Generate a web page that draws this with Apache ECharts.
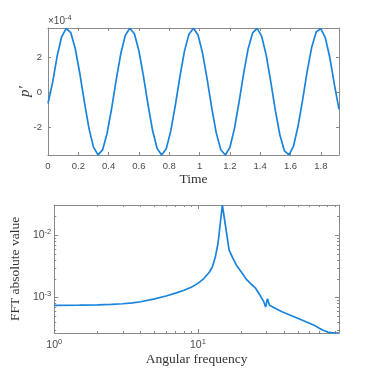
<!DOCTYPE html>
<html>
<head>
<meta charset="utf-8">
<script src="https://cdn.jsdelivr.net/npm/echarts@6/dist/echarts.min.js"></script>
<style>html,body{margin:0;padding:0;background:#fff}#c{width:374px;height:374px}</style>
</head>
<body>
<div id="c"></div>
<script>
// ---- top panel: pressure fluctuation (units of 1e-4) ----
var timeValues = [0,0.03,0.06,0.09,0.12,0.15,0.18,0.21,0.24,0.27,0.30,0.33,0.36,0.39,0.42,0.45,0.48,0.51,0.54,0.57,0.60,0.63,0.66,0.69,0.72,0.75,0.78,0.81,0.84,0.87,0.90,0.93,0.96,0.99,1.02,1.05,1.08,1.11,1.14,1.17,1.20,1.23,1.26,1.29,1.32,1.35,1.38,1.41,1.44,1.47,1.50,1.53,1.56,1.59,1.62,1.65,1.68,1.71,1.74,1.77,1.80,1.83,1.86,1.89,1.92];
var pressureValues = [-0.63,0.54,2.05,3.16,3.64,3.40,2.48,1.07,-0.54,-2.04,
  -3.12,-3.56,-3.28,-2.33,-0.91,0.71,2.19,3.24,3.65,3.33,
  2.35,0.91,-0.71,-2.18,-3.20,-3.57,-3.22,-2.20,-0.75,0.87,
  2.33,3.31,3.65,3.26,2.22,0.75,-0.87,-2.31,-3.27,-3.57,
  -3.14,-2.07,-0.59,1.03,2.46,3.38,3.64,3.18,2.10,0.59,
  -1.03,-2.43,-3.34,-3.56,-3.06,-1.92,-0.43,1.19,2.57,3.44,
  3.63,3.10,1.95,0.42,-0.97];
var timeTicks = [0,0.2,0.4,0.6,0.8,1,1.2,1.4,1.6,1.8];
var pressureTicks = [-2,0,2];

// ---- bottom panel: FFT ----
var omegaValues = [1,1.5,2,2.5,3,3.5,4,5,6,7,8,9,10,11,12,12.6,13.2,13.8,14.8,16.5,17.5,18.5,20,21.6,23.5,25.3,27,28.8,29.6,30.5,31.5,35,38.5,44,50,57,65,70,75,80,85,90,96];
var fftValues = [7.5e-4,7.55e-4,7.65e-4,7.75e-4,7.95e-4,8.2e-4,8.55e-4,9.5e-4,1.06e-3,1.18e-3,
  1.31e-3,1.46e-3,1.69e-3,2.02e-3,2.55e-3,3.1e-3,4.4e-3,7.4e-3,3.08e-2,5.8e-3,
  4.3e-3,3.35e-3,2.6e-3,2.0e-3,1.65e-3,1.4e-3,1.1e-3,8.5e-4,7.06e-4,9.6e-4,
  7.5e-4,6.6e-4,5.9e-4,5.2e-4,4.6e-4,4.05e-4,3.55e-4,3.22e-4,2.96e-4,2.79e-4,2.72e-4,2.69e-4,2.69e-4];
var omegaMajorTicks = [1,10];
var omegaMinorTicks = [2,3,4,5,6,7,8,9,20,30,40,50,60,70,80,90];
var fftMajorTicks = [1e-3,1e-2];
var fftMinorTicks = [3e-4,4e-4,5e-4,6e-4,7e-4,8e-4,9e-4,2e-3,3e-3,4e-3,5e-3,6e-3,7e-3,8e-3,9e-3,2e-2,3e-2];

var AX = '#8a8a8a', LBL = '#4a4a4a', LINE = '#1a84dc';
var SANS = '"Liberation Sans", Arial, sans-serif';
var SERIF = '"Liberation Serif", "Times New Roman", serif';

function pow10Label(v){
  var e = Math.round(Math.log(v)/Math.LN10);
  return '{b|10}{s|' + e + '}';
}
var powRich = {
  b:{fontSize:10.5,color:LBL,fontFamily:SANS},
  s:{fontSize:7.5,color:LBL,fontFamily:SANS,padding:[0,0,7,0]}
};

var chart = echarts.init(document.getElementById('c'), null, {renderer:'canvas'});
var option = {
  animation:false,
  backgroundColor:'#fff',
  grid:[
    {left:48, top:28, width:291, height:127},
    {left:48, top:205, width:291, height:128}
  ],
  graphic:[{
    type:'text', left:48, top:14,
    style:{text:'{a|×10}{e|-4}', rich:{a:{fontSize:10,fill:LBL,fontFamily:SANS}, e:{fontSize:7.5,fill:LBL,fontFamily:SANS,padding:[0,0,7,0]}}}
  }],
  xAxis:[
    {type:'value', gridIndex:0, position:'bottom', min:0, max:1.92,
     axisLine:{show:true, onZero:false, lineStyle:{color:AX,width:1}},
     axisTick:{show:true, inside:true, length:3, customValues:timeTicks, lineStyle:{color:AX}},
     axisLabel:{show:true, customValues:timeTicks, fontSize:9.5, color:LBL, fontFamily:SANS, margin:6},
     splitLine:{show:false},
     name:'Time', nameLocation:'middle', nameGap:17,
     nameTextStyle:{fontFamily:SERIF, fontSize:13.5, color:'#333'}},
    {type:'value', gridIndex:0, position:'top', min:0, max:1.92,
     axisLine:{show:true, onZero:false, lineStyle:{color:AX,width:1}},
     axisTick:{show:true, inside:true, length:3, customValues:timeTicks, lineStyle:{color:AX}},
     axisLabel:{show:false}, splitLine:{show:false}},
    {type:'log', gridIndex:1, position:'bottom', min:1, max:96, logBase:10,
     axisLine:{show:true, onZero:false, lineStyle:{color:AX,width:1}},
     axisTick:{show:true, inside:true, length:4, customValues:omegaMajorTicks, lineStyle:{color:AX}},
     axisLabel:{show:true, customValues:omegaMajorTicks, formatter:pow10Label, rich:powRich, margin:5},
     splitLine:{show:false}, minorTick:{show:false},
     name:'Angular frequency', nameLocation:'middle', nameGap:19,
     nameTextStyle:{fontFamily:SERIF, fontSize:13.5, color:'#333'}},
    {type:'log', gridIndex:1, position:'bottom', min:1, max:96, logBase:10,
     axisLine:{show:false},
     axisTick:{show:true, inside:true, length:2, customValues:omegaMinorTicks, lineStyle:{color:AX}},
     axisLabel:{show:false}, splitLine:{show:false}},
    {type:'log', gridIndex:1, position:'top', min:1, max:96, logBase:10,
     axisLine:{show:true, onZero:false, lineStyle:{color:AX,width:1}},
     axisTick:{show:true, inside:true, length:4, customValues:omegaMajorTicks, lineStyle:{color:AX}},
     axisLabel:{show:false}, splitLine:{show:false}},
    {type:'log', gridIndex:1, position:'top', min:1, max:96, logBase:10,
     axisLine:{show:false},
     axisTick:{show:true, inside:true, length:2, customValues:omegaMinorTicks, lineStyle:{color:AX}},
     axisLabel:{show:false}, splitLine:{show:false}}
  ],
  yAxis:[
    {type:'value', gridIndex:0, position:'left', min:-3.57, max:3.66,
     axisLine:{show:true, onZero:false, lineStyle:{color:AX,width:1}},
     axisTick:{show:true, inside:true, length:3, customValues:pressureTicks, lineStyle:{color:AX}},
     axisLabel:{show:true, customValues:pressureTicks, fontSize:9.5, color:LBL, fontFamily:SANS, margin:6},
     splitLine:{show:false},
     name:'p\u2032', nameLocation:'middle', nameGap:15, nameMoveOverlap:false,
     nameTextStyle:{fontFamily:SERIF, fontStyle:'italic', fontSize:15, color:'#333'}},
    {type:'value', gridIndex:0, position:'right', min:-3.57, max:3.66,
     axisLine:{show:true, onZero:false, lineStyle:{color:AX,width:1}},
     axisTick:{show:true, inside:true, length:3, customValues:pressureTicks, lineStyle:{color:AX}},
     axisLabel:{show:false}, splitLine:{show:false}},
    {type:'log', gridIndex:1, position:'left', min:2.69e-4, max:3.08e-2, logBase:10,
     axisLine:{show:true, onZero:false, lineStyle:{color:AX,width:1}},
     axisTick:{show:true, inside:true, length:4, customValues:fftMajorTicks, lineStyle:{color:AX}},
     axisLabel:{show:true, customValues:fftMajorTicks, formatter:pow10Label, rich:powRich, margin:3},
     splitLine:{show:false}, minorTick:{show:false},
     name:'FFT absolute value', nameLocation:'middle', nameGap:26,
     nameTextStyle:{fontFamily:SERIF, fontSize:13.5, color:'#333'}},
    {type:'log', gridIndex:1, position:'left', min:2.69e-4, max:3.08e-2, logBase:10,
     axisLine:{show:false},
     axisTick:{show:true, inside:true, length:2, customValues:fftMinorTicks, lineStyle:{color:AX}},
     axisLabel:{show:false}, splitLine:{show:false}},
    {type:'log', gridIndex:1, position:'right', min:2.69e-4, max:3.08e-2, logBase:10,
     axisLine:{show:true, onZero:false, lineStyle:{color:AX,width:1}},
     axisTick:{show:true, inside:true, length:4, customValues:fftMajorTicks, lineStyle:{color:AX}},
     axisLabel:{show:false}, splitLine:{show:false}},
    {type:'log', gridIndex:1, position:'right', min:2.69e-4, max:3.08e-2, logBase:10,
     axisLine:{show:false},
     axisTick:{show:true, inside:true, length:2, customValues:fftMinorTicks, lineStyle:{color:AX}},
     axisLabel:{show:false}, splitLine:{show:false}}
  ],
  series:[
    {type:'line', xAxisIndex:0, yAxisIndex:0, showSymbol:false, symbol:'none',
     data: timeValues.map(function(t,i){return [t, pressureValues[i]];}),
     lineStyle:{color:LINE, width:1.7}, clip:true},
    {type:'line', xAxisIndex:2, yAxisIndex:2, showSymbol:false, symbol:'none',
     data: omegaValues.map(function(w,i){return [w, fftValues[i]];}),
     lineStyle:{color:LINE, width:1.7}, clip:true}
  ]
};
chart.setOption(option);
</script>
</body>
</html>
